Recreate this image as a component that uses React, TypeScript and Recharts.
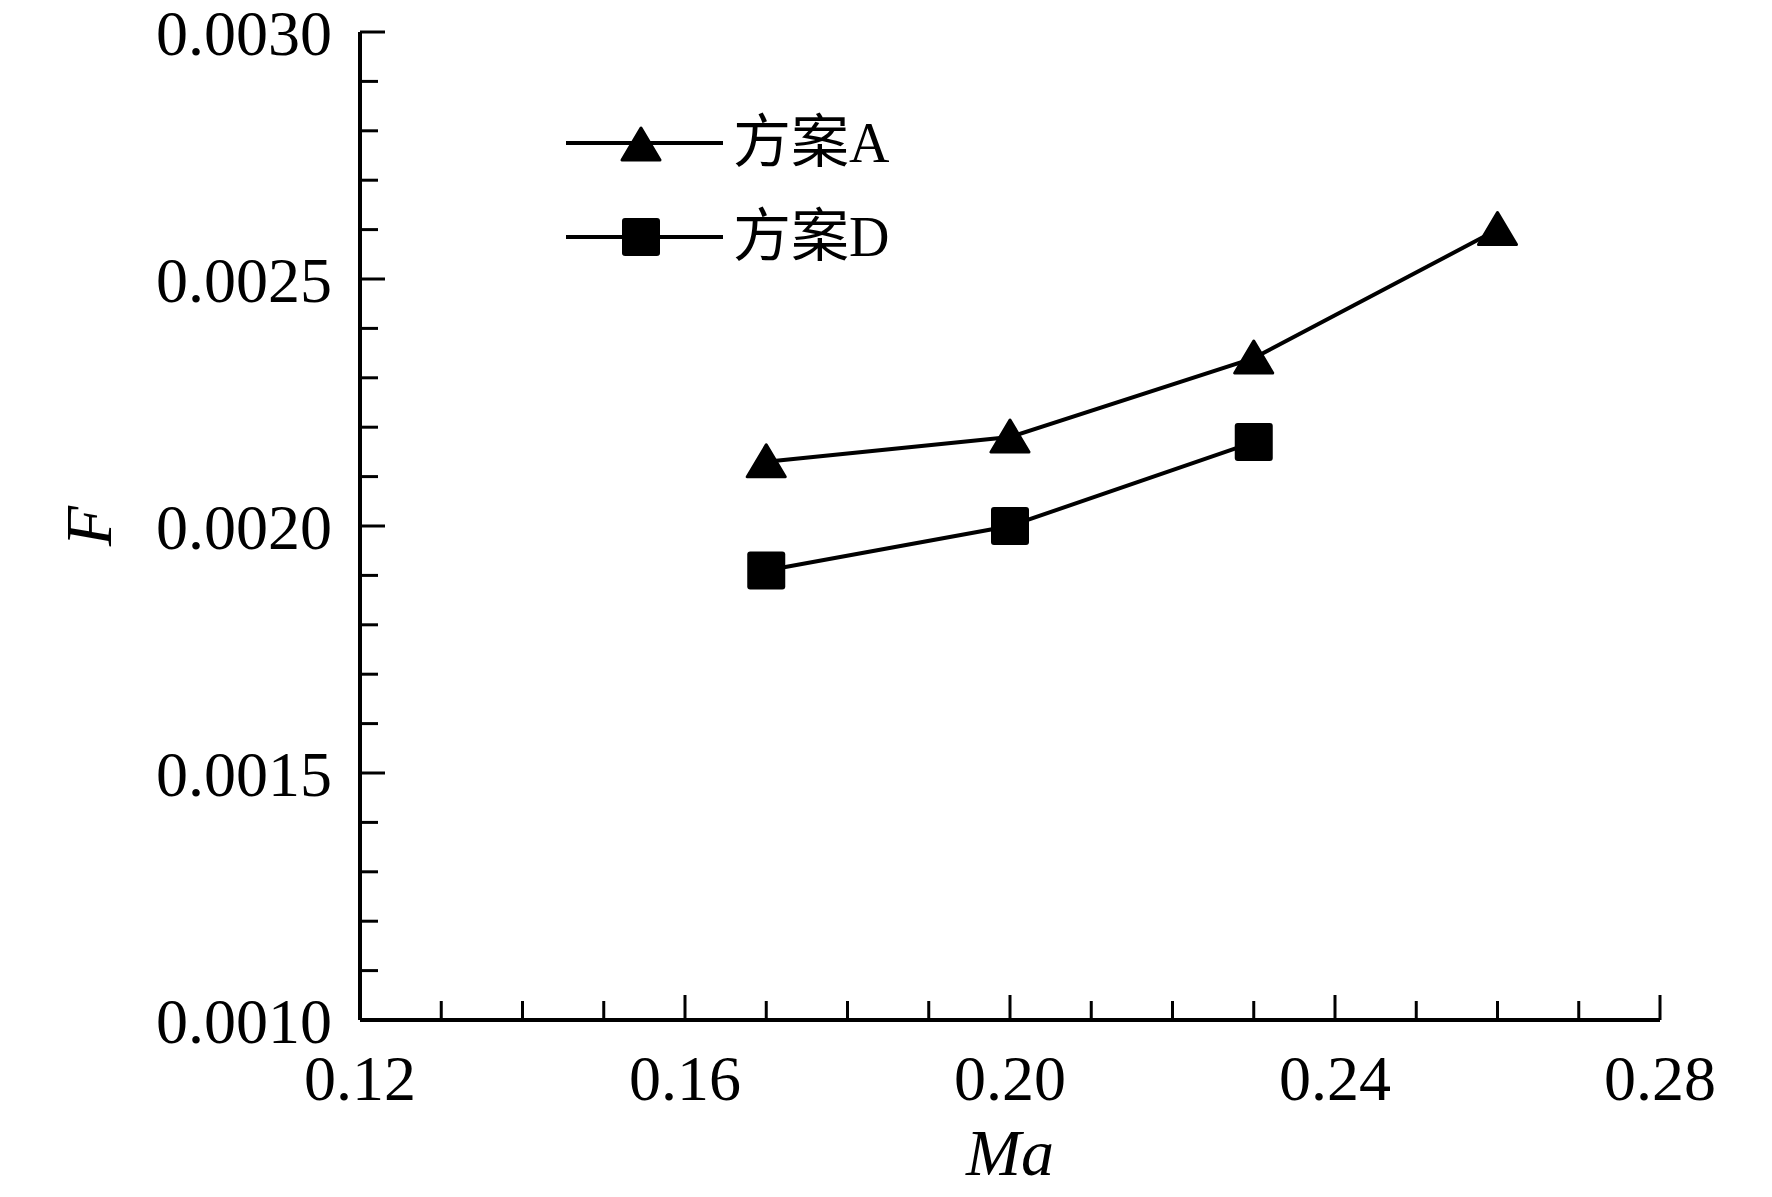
import * as React from "react"
import { LineChart, Line, XAxis, YAxis, Legend } from "recharts"

// Ma values and F values
const maA = [0.17, 0.2, 0.23, 0.26]
const fA = [0.00213, 0.00218, 0.00234, 0.0026]
const maD = [0.17, 0.2, 0.23]
const fD = [0.00191, 0.002, 0.00217]

const seriesNames = ["方案A", "方案D"]

// every tick position (major + minor)
const xTicks = [0.12, 0.13, 0.14, 0.15, 0.16, 0.17, 0.18, 0.19, 0.2, 0.21, 0.22, 0.23, 0.24, 0.25, 0.26, 0.27, 0.28]
const yTicks = [
  0.001, 0.0011, 0.0012, 0.0013, 0.0014, 0.0015, 0.0016, 0.0017, 0.0018, 0.0019, 0.002,
  0.0021, 0.0022, 0.0023, 0.0024, 0.0025, 0.0026, 0.0027, 0.0028, 0.0029, 0.003,
]

const dataA = maA.map((ma, i) => ({ ma, F: fA[i] }))
const dataD = maD.map((ma, i) => ({ ma, F: fD[i] }))

const FONT = "'Liberation Serif', 'Times New Roman', serif"

const XTick = (props: any) => {
  const { x, y, payload } = props
  const v = payload.value
  const major = Math.round(v * 100) % 4 === 0
  return (
    <g>
      <line x1={x} x2={x} y1={y} y2={y - (major ? 25 : 19)} stroke="#000" strokeWidth={3} />
      {major && (
        <text x={x} y={y + 80} textAnchor="middle" fontSize={64} fontFamily={FONT} fill="#000">
          {v.toFixed(2)}
        </text>
      )}
    </g>
  )
}

const YTick = (props: any) => {
  const { x, y, payload } = props
  const v = payload.value
  const major = Math.round(v * 10000) % 5 === 0
  return (
    <g>
      <line x1={x} x2={x + (major ? 25 : 18)} y1={y} y2={y} stroke="#000" strokeWidth={3} />
      {major && (
        <text x={x - 28} y={y + 1} dy="0.35em" textAnchor="end" fontSize={64} fontFamily={FONT} fill="#000">
          {v.toFixed(4)}
        </text>
      )}
    </g>
  )
}

const Triangle = ({ cx, cy }: { cx: number; cy: number }) => (
  <polygon
    points={`${cx},${cy - 17} ${cx - 19},${cy + 15} ${cx + 19},${cy + 15}`}
    fill="#000"
    stroke="#000"
    strokeWidth={3}
    strokeLinejoin="round"
  />
)

const Square = ({ cx, cy }: { cx: number; cy: number }) => (
  <rect x={cx - 19} y={cy - 19} width={38} height={38} rx={3} fill="#000" />
)

const renderTriangle = (p: any) => <Triangle key={`t-${p.index}`} cx={p.cx} cy={p.cy} />
const renderSquare = (p: any) => <Square key={`s-${p.index}`} cx={p.cx} cy={p.cy} />

const LegendBox = (props: any) => {
  const { payload = [] } = props
  return (
    <div>
      {payload.map((entry: any) => {
        const name: string = entry.value
        const tri = name === seriesNames[0]
        return (
          <div key={name} style={{ display: "flex", alignItems: "center", height: 94 }}>
            <svg width={157} height={94} style={{ display: "block" }}>
              <line x1={0} x2={157} y1={47} y2={47} stroke="#000" strokeWidth={4} />
              {tri ? <Triangle cx={75} cy={49} /> : <Square cx={75} cy={47} />}
            </svg>
            <span style={{ marginLeft: 10, marginTop: -8, whiteSpace: "nowrap", color: "#000", lineHeight: 1 }}>
              <span style={{ fontFamily: "'Noto Sans CJK SC', sans-serif", fontSize: 58 }}>{name.slice(0, 2)}</span>
              <span style={{ fontFamily: FONT, fontSize: 56 }}>{name.slice(2)}</span>
            </span>
          </div>
        )
      })}
    </div>
  )
}

export default function App() {
  return (
    <div style={{ position: "absolute", left: 0, top: 0, width: 1772, height: 1197, background: "#fff" }}>
      <LineChart width={1772} height={1197} margin={{ top: 32, right: 112, bottom: 77, left: 260 }}>
        <XAxis
          dataKey="ma"
          type="number"
          domain={[0.12, 0.28]}
          ticks={xTicks}
          interval={0}
          tickSize={0}
          tickMargin={0}
          tick={<XTick />}
          height={100}
          axisLine={{ stroke: "#000", strokeWidth: 4 }}
          allowDataOverflow
          label={{
            content: (p: any) => {
              const vb = p.viewBox
              return (
                <text x={vb.x + vb.width / 2} y={vb.y + 155} textAnchor="middle" fontSize={66} fontStyle="italic" fontFamily={FONT} fill="#000">
                  Ma
                </text>
              )
            },
          }}
        />
        <XAxis
          xAxisId="top"
          orientation="top"
          type="number"
          domain={[0.12, 0.28]}
          height={0}
          tick={false}
          tickLine={false}
          axisLine={{ stroke: "#000", strokeWidth: 4 }}
        />
        <YAxis
          dataKey="F"
          type="number"
          domain={[0.001, 0.003]}
          ticks={yTicks}
          interval={0}
          tickSize={0}
          tickMargin={0}
          tick={<YTick />}
          width={100}
          axisLine={{ stroke: "#000", strokeWidth: 4 }}
          allowDataOverflow
          label={{
            content: (p: any) => {
              const vb = p.viewBox
              const cx = vb.x - 172
              const cy = vb.y + vb.height / 2
              return (
                <text x={cx} y={cy} dy="0.35em" textAnchor="middle" fontSize={66} fontStyle="italic" fontFamily={FONT} fill="#000" transform={`rotate(-90, ${cx}, ${cy})`}>
                  F
                </text>
              )
            },
          }}
        />
        <YAxis
          yAxisId="right"
          orientation="right"
          type="number"
          domain={[0.001, 0.003]}
          width={0}
          tick={false}
          tickLine={false}
          axisLine={{ stroke: "#000", strokeWidth: 4 }}
        />
        <Legend
          layout="vertical"
          align="center"
          verticalAlign="middle"
          content={<LegendBox />}
          wrapperStyle={{ left: 566, top: 96, width: "auto" }}
        />
        <Line
          data={dataA}
          dataKey="F"
          name={seriesNames[0]}
          type="linear"
          stroke="#000"
          strokeWidth={4}
          dot={renderTriangle}
          activeDot={false}
          isAnimationActive={false}
        />
        <Line
          data={dataD}
          dataKey="F"
          name={seriesNames[1]}
          type="linear"
          stroke="#000"
          strokeWidth={4}
          dot={renderSquare}
          activeDot={false}
          isAnimationActive={false}
        />
      </LineChart>
    </div>
  )
}
